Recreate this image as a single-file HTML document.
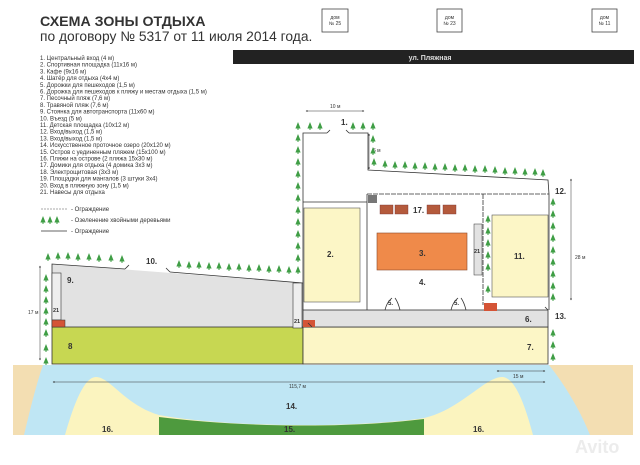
<!DOCTYPE html>
<html><head><meta charset="utf-8"><style>
body{margin:0;background:#fff;}
svg{display:block;font-family:"Liberation Sans",sans-serif;}
.l{font-size:6px;fill:#333;}
.n{font-size:8px;fill:#333;font-weight:bold;}
.d{font-size:5px;fill:#333;}
</style></head><body>
<svg width="640" height="465" viewBox="0 0 640 465" xmlns="http://www.w3.org/2000/svg">
<defs>
<g id="t"><polygon points="0,-5 -2.6,1.5 2.6,1.5" fill="#3f9e45"/><rect x="-0.5" y="1.5" width="1" height="1.5" fill="#3f9e45"/></g>
<marker id="a" viewBox="0 0 6 6" refX="5" refY="3" markerWidth="4" markerHeight="4" orient="auto-start-reverse"><path d="M0,0L6,3L0,6z" fill="#222"/></marker>
</defs>
<text x="40" y="26" font-size="14.2" font-weight="bold" fill="#333">СХЕМА ЗОНЫ ОТДЫХА</text>
<text x="40" y="41" font-size="13.8" fill="#333">по договору № 5317 от 11 июля 2014 года.</text>
<g fill="#fff" stroke="#444" stroke-width="0.8">
<rect x="322" y="9" width="26" height="23"/><rect x="437" y="9" width="25" height="23"/><rect x="592" y="9" width="25" height="23"/></g>
<g class="d" text-anchor="middle"><text x="335" y="19">дом</text><text x="335" y="25">№ 25</text>
<text x="449.5" y="19">дом</text><text x="449.5" y="25">№ 23</text><text x="604.5" y="19">дом</text><text x="604.5" y="25">№ 11</text></g>
<rect x="233" y="50" width="401" height="14" fill="#222"/>
<text x="430" y="60" font-size="7" fill="#ddd" font-weight="bold" text-anchor="middle">ул. Пляжная</text>
<g class="l">
<text x="40" y="60">1. Центральный вход (4 м)</text>
<text x="40" y="66.7">2. Спортивная площадка (11х16 м)</text>
<text x="40" y="73.4">3. Кафе (9х16 м)</text>
<text x="40" y="80.1">4. Шатёр для отдыха (4х4 м)</text>
<text x="40" y="86.8">5. Дорожки для пешеходов (1,5 м)</text>
<text x="40" y="93.5">6. Дорожка для пешеходов к пляжу и местам отдыха (1,5 м)</text>
<text x="40" y="100.2">7. Песочный пляж (7,6 м)</text>
<text x="40" y="106.9">8. Травяной пляж (7,6 м)</text>
<text x="40" y="113.6">9. Стоянка для автотранспорта (11х60 м)</text>
<text x="40" y="120.3">10. Въезд (5 м)</text>
<text x="40" y="127">11. Детская площадка (10х12 м)</text>
<text x="40" y="133.7">12. Вход/выход (1,5 м)</text>
<text x="40" y="140.4">13. Вход/выход (1,5 м)</text>
<text x="40" y="147.1">14. Искусственное проточное озеро (20х120 м)</text>
<text x="40" y="153.8">15. Остров с уединенным пляжем (15х100 м)</text>
<text x="40" y="160.5">16. Пляжи на острове (2 пляжа 15х30 м)</text>
<text x="40" y="167.2">17. Домики для отдыха (4 домика 3х3 м)</text>
<text x="40" y="173.9">18. Электрощитовая (3х3 м)</text>
<text x="40" y="180.6">19. Площадки для мангалов (3 штуки 3х4)</text>
<text x="40" y="187.3">20. Вход в пляжную зону (1,5 м)</text>
<text x="40" y="194">21. Навесы для отдыха</text>
<text x="71" y="211">- Ограждение</text>
<text x="71" y="222">- Озеленение хвойными деревьями</text>
<text x="71" y="233">- Ограждение</text></g>
<line x1="41" y1="209" x2="67" y2="209" stroke="#555" stroke-width="0.6" stroke-dasharray="2,1"/>
<use href="#t" x="43" y="221"/><use href="#t" x="50" y="221"/><use href="#t" x="57" y="221"/>
<line x1="41" y1="231" x2="67" y2="231" stroke="#333" stroke-width="0.8"/>
<rect x="13" y="365" width="620" height="70" fill="#f3deb2"/>
<path d="M43,365 L549,365 C565,385 580,410 590,435 L24,435 C30,410 36,385 43,365Z" fill="#bfe6f4"/>
<path d="M65,435 C75,400 85,377 96,377 C110,377 125,405 159,415 C230,428 360,428 424,418 C460,410 485,377 502,377 C515,377 525,405 533,435Z" fill="#fbf4bf"/>
<path d="M159,417 C250,428 350,428 424,419 L424,435 L159,435Z" fill="#4e9a3e"/>
<polygon points="52,264 303,283 303,327 52,327" fill="#e2e2e2"/>
<rect x="52" y="327" width="251" height="37" fill="#c7d752" stroke="#333" stroke-width="0.8"/>
<rect x="303" y="327" width="245" height="37" fill="#fcf6c6" stroke="#333" stroke-width="0.8"/>
<polyline points="125,269 52,264 52,327" fill="none" stroke="#333" stroke-width="0.8"/>
<line x1="170" y1="272" x2="303" y2="283" stroke="#333" stroke-width="0.8"/>
<rect x="52" y="273" width="9" height="47" fill="#eee" stroke="#333" stroke-width="0.6"/>
<rect x="52" y="320" width="13" height="7" fill="#d45436" stroke="#333" stroke-width="0.5"/>
<rect x="293" y="283" width="9" height="45" fill="#eee" stroke="#333" stroke-width="0.6"/>
<rect x="303" y="310" width="245" height="17" fill="#e2e2e2" stroke="#333" stroke-width="0.8"/>
<rect x="303" y="320" width="12" height="7" fill="#d45436"/>
<rect x="484" y="303" width="13" height="8" fill="#d45436"/>
<rect x="304" y="208" width="56" height="94" fill="#fcf6c6" stroke="#555" stroke-width="0.6"/>
<rect x="492" y="215" width="56" height="82" fill="#fcf6c6" stroke="#555" stroke-width="0.6"/>
<rect x="377" y="233" width="90" height="37" fill="#ef8a4a" stroke="#8a4a2a" stroke-width="0.6"/>
<rect x="474" y="224" width="8" height="51" fill="#e2e2e2" stroke="#333" stroke-width="0.5"/>
<g fill="#b45a3c" stroke="#733" stroke-width="0.4"><rect x="380" y="205" width="13" height="9"/><rect x="395" y="205" width="13" height="9"/><rect x="427" y="205" width="13" height="9"/><rect x="443" y="205" width="13" height="9"/></g>
<rect x="368" y="195" width="9" height="8" fill="#777"/>
<g fill="none" stroke="#333" stroke-width="0.8">
<polyline points="327,133 303,133 303,310"/>
<polyline points="349,133 368,133 368,170 548,180 549,194"/>
<line x1="303" y1="202" x2="367" y2="202"/>
<line x1="367" y1="194" x2="367" y2="310"/>
<line x1="367" y1="194" x2="549" y2="194" stroke-dasharray="5,1"/>
<line x1="549" y1="194" x2="549" y2="310"/>
<line x1="483" y1="194" x2="483" y2="305" stroke-dasharray="5,1"/>
<path d="M327,133 l3,-3 M349,133 l-3,-3 M312,327 l-4,-4 M385,310 C387,302 390,300 392,298 M395,298 C398,302 399,306 400,310 M451,310 C453,302 456,300 458,298 M461,298 C464,302 465,306 466,310 M125,269 l4,-4 M170,272 l-4,-4 M548,310 l-3,-3"/>
<line x1="40" y1="266" x2="40" y2="360" stroke-width="0.5" marker-start="url(#a)" marker-end="url(#a)"/>
<line x1="571" y1="179" x2="571" y2="300" stroke-width="0.5" marker-start="url(#a)" marker-end="url(#a)"/>
<line x1="306" y1="111" x2="364" y2="111" stroke-width="0.5" marker-start="url(#a)" marker-end="url(#a)"/>
<line x1="369" y1="134" x2="369" y2="169" stroke-width="0.5" marker-start="url(#a)" marker-end="url(#a)"/>
<line x1="53" y1="382" x2="545" y2="382" stroke-width="0.5" marker-start="url(#a)" marker-end="url(#a)"/>
<line x1="497" y1="371" x2="545" y2="371" stroke-width="0.5" marker-start="url(#a)" marker-end="url(#a)"/>
</g>
<g class="d"><text x="28" y="314">17 м</text><text x="575" y="259">28 м</text><text x="330" y="108">10 м</text><text x="373" y="152">6 м</text><text x="289" y="388">115,7 м</text><text x="513" y="378">15 м</text></g>
<g>
<use href="#t" x="298" y="127"/><use href="#t" x="310" y="127"/><use href="#t" x="320" y="127"/>
<use href="#t" x="353" y="127"/><use href="#t" x="363" y="127"/><use href="#t" x="373" y="127"/>
<use href="#t" x="298" y="139"/><use href="#t" x="298" y="151"/><use href="#t" x="298" y="163"/><use href="#t" x="298" y="175"/><use href="#t" x="298" y="187"/><use href="#t" x="298" y="199"/><use href="#t" x="298" y="211"/><use href="#t" x="298" y="223"/><use href="#t" x="298" y="235"/><use href="#t" x="298" y="247"/><use href="#t" x="298" y="259"/><use href="#t" x="298" y="271"/>
<use href="#t" x="373" y="140"/><use href="#t" x="373" y="152"/><use href="#t" x="374" y="163"/>
<use href="#t" x="385" y="165"/><use href="#t" x="395" y="166"/><use href="#t" x="405" y="166"/><use href="#t" x="415" y="167"/><use href="#t" x="425" y="167"/><use href="#t" x="435" y="168"/><use href="#t" x="445" y="168"/><use href="#t" x="455" y="169"/><use href="#t" x="465" y="169"/><use href="#t" x="475" y="170"/><use href="#t" x="485" y="170"/><use href="#t" x="495" y="171"/><use href="#t" x="505" y="172"/><use href="#t" x="515" y="172"/><use href="#t" x="525" y="173"/><use href="#t" x="535" y="173"/><use href="#t" x="543" y="174"/>
<use href="#t" x="553" y="203"/><use href="#t" x="553" y="215"/><use href="#t" x="553" y="227"/><use href="#t" x="553" y="239"/><use href="#t" x="553" y="251"/><use href="#t" x="553" y="263"/><use href="#t" x="553" y="275"/><use href="#t" x="553" y="287"/><use href="#t" x="553" y="298"/>
<use href="#t" x="553" y="334"/><use href="#t" x="553" y="346"/><use href="#t" x="553" y="358"/>
<use href="#t" x="488" y="220"/><use href="#t" x="488" y="232"/><use href="#t" x="488" y="244"/><use href="#t" x="488" y="256"/><use href="#t" x="488" y="268"/><use href="#t" x="488" y="290"/>
<use href="#t" x="48" y="258"/><use href="#t" x="58" y="257"/><use href="#t" x="68" y="257"/><use href="#t" x="78" y="258"/><use href="#t" x="89" y="258"/><use href="#t" x="99" y="259"/><use href="#t" x="111" y="259"/><use href="#t" x="122" y="260"/>
<use href="#t" x="179" y="265"/><use href="#t" x="189" y="266"/><use href="#t" x="199" y="266"/><use href="#t" x="209" y="267"/><use href="#t" x="219" y="267"/><use href="#t" x="229" y="268"/><use href="#t" x="239" y="268"/><use href="#t" x="249" y="269"/><use href="#t" x="259" y="269"/><use href="#t" x="269" y="270"/><use href="#t" x="279" y="270"/><use href="#t" x="289" y="271"/>
<use href="#t" x="46" y="279"/><use href="#t" x="46" y="290"/><use href="#t" x="46" y="301"/><use href="#t" x="46" y="312"/><use href="#t" x="46" y="323"/><use href="#t" x="46" y="334"/><use href="#t" x="46" y="349"/><use href="#t" x="46" y="362"/>
</g>
<g class="n">
<text x="341" y="125">1.</text><text x="555" y="194">12.</text><text x="555" y="319">13.</text>
<text x="327" y="257">2.</text><text x="419" y="256">3.</text><text x="419" y="285">4.</text>
<text x="388" y="305" font-size="6">5.</text><text x="454" y="305" font-size="6">5.</text>
<text x="413" y="213">17.</text><text x="514" y="259">11.</text><text x="525" y="322">6.</text>
<text x="527" y="350">7.</text><text x="68" y="349">8</text><text x="67" y="283">9.</text><text x="146" y="264">10.</text>
<text x="286" y="409">14.</text><text x="284" y="432">15.</text><text x="102" y="432">16.</text><text x="473" y="432">16.</text>
<text x="53" y="312" font-size="5.5">21</text><text x="294" y="323" font-size="5.5">21</text><text x="474" y="253" font-size="5.5">21</text>
</g>
<text x="575" y="453" font-size="18" fill="#ececec" font-weight="bold">Avito</text>
</svg>
</body></html>
